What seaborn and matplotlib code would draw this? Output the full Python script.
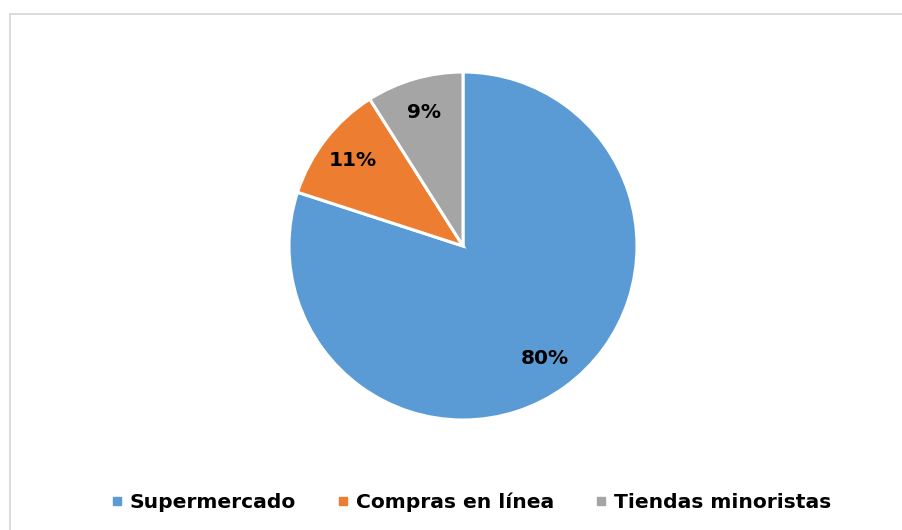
import matplotlib
matplotlib.use("Agg")
import numpy as np
import matplotlib.pyplot as plt
from matplotlib.lines import Line2D
from matplotlib.patches import Rectangle
import seaborn as sns

categories = ["Supermercado", "Compras en línea", "Tiendas minoristas"]
shares = [80, 11, 9]
labels = ["80%", "11%", "9%"]
colors = ["#5B9BD5", "#ED7D31", "#A5A5A5"]

sns.set_theme(style="white")
plt.rcParams["font.family"] = ["DejaVu Sans"]
plt.rcParams["text.color"] = "black"

W, H = 902, 530
fig = plt.figure(figsize=(W / 100, H / 100), dpi=100)
fig.patch.set_facecolor("white")

# light frame around the chart area (open to the right and bottom)
fig.patches.append(Rectangle((9.5 / W, -0.1), 1.2, (H - 13.5) / H + 0.1,
                             transform=fig.transFigure, fill=False,
                             edgecolor="#D9D9D9", linewidth=1.3))

cx, cy, r = 463, 246, 174
ax = fig.add_axes([(cx - r) / W, (H - cy - r) / H, 2 * r / W, 2 * r / H])
palette = sns.color_palette(colors)

wedges, _ = ax.pie(shares, colors=palette, startangle=90, counterclock=False,
                   radius=1.0, wedgeprops=dict(edgecolor="white", linewidth=2.2))
for w, txt in zip(wedges, labels):
    ang = np.deg2rad((w.theta1 + w.theta2) / 2)
    ax.text(0.8 * np.cos(ang), 0.8 * np.sin(ang), txt, ha="center", va="center",
            fontsize=14.5, fontweight="heavy", color="black")
ax.set_xlim(-1, 1)
ax.set_ylim(-1, 1)
ax.set_aspect("equal")
ax.axis("off")

handles = [Line2D([0], [0], marker="s", linestyle="none", markersize=6.2,
                  markerfacecolor=c, markeredgecolor=c) for c in colors]
leg = fig.legend(handles, categories, loc="center", bbox_to_anchor=(471 / W, 28 / H),
                 ncol=3, frameon=False, handlelength=0.6, handletextpad=0.35,
                 columnspacing=2.0, prop=dict(size=14.6, weight="bold"))
for t in leg.get_texts():
    t.set_color("black")

fig.savefig("out.png", dpi=100, facecolor="white")
